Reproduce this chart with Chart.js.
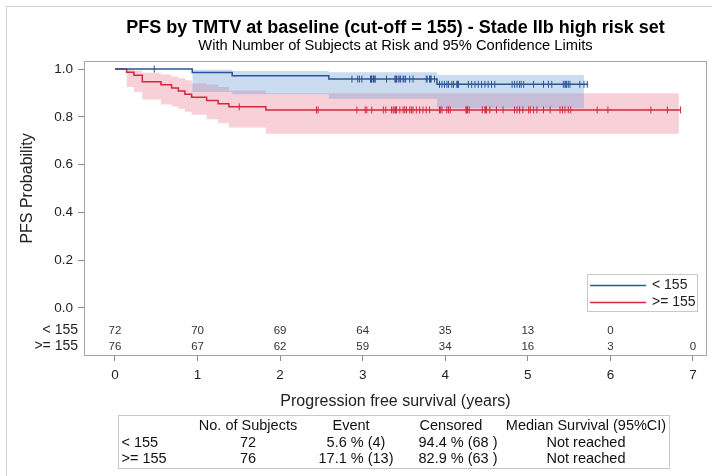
<!DOCTYPE html>
<html>
<head>
<meta charset="utf-8">
<title>PFS by TMTV at baseline</title>
<script src="https://cdn.jsdelivr.net/npm/chart.js@4.4.0/dist/chart.umd.min.js"></script>
<style>
  html, body { margin: 0; padding: 0; background: #fff; }
  #wrap { width: 712px; height: 476px; }
</style>
</head>
<body>
<div id="wrap"><canvas id="kmChart" width="712" height="476"></canvas></div>
<script>
// Values
const groups = ['< 155', '>= 155'];
const xTicks = [0, 1, 2, 3, 4, 5, 6, 7];
const yTicks = [0, 0.2, 0.4, 0.6, 0.8, 1.0];

// TMTV < 155
const lowTimes = [0, 0.936, 1.42, 2.59, 3.90, 5.73];
const lowSurv = [1, 0.986, 0.972, 0.958, 0.936, 0.936];
const lowBandTimes = [0.936, 1.42, 2.59, 3.90, 5.68];
const lowUpper = [0.997, 0.992, 0.987, 0.975, 0.975];
const lowLower = [0.904, 0.895, 0.876, 0.836, 0.836];
const lowCensor = [0.476,
  2.87, 2.94, 2.96, 2.99,
  3.095, 3.10, 3.107, 3.127, 3.13, 3.148, 3.15, 3.289, 3.39, 3.40, 3.41, 3.43, 3.45, 3.46,
  3.49, 3.50, 3.52, 3.57, 3.61, 3.77, 3.78, 3.81, 3.82, 3.83, 3.87, 3.93, 3.96, 3.99,
  4.02, 4.04, 4.08, 4.10, 4.14, 4.15, 4.16, 4.28, 4.32, 4.36, 4.40, 4.44, 4.48, 4.52,
  4.56, 4.60, 4.81, 4.84, 4.87, 4.90, 4.92, 4.95,
  5.07, 5.19, 5.25, 5.29, 5.43, 5.45, 5.46, 5.47, 5.49, 5.51, 5.63, 5.68, 5.72];

// TMTV >= 155
const highTimes = [0, 0.141, 0.23, 0.331, 0.557, 0.686, 0.767, 0.847, 0.928, 1.11, 1.25, 1.38, 1.828, 6.85];
const highSurv = [1, 0.987, 0.974, 0.947, 0.934, 0.921, 0.908, 0.895, 0.882, 0.868, 0.855, 0.842, 0.829, 0.829];
const highBandTimes = [0.141, 0.23, 0.331, 0.557, 0.686, 0.767, 0.847, 0.928, 1.11, 1.25, 1.38, 1.828, 6.83];
const highUpper = [0.998, 0.994, 0.985, 0.977, 0.969, 0.961, 0.953, 0.941, 0.935, 0.925, 0.91, 0.899, 0.899];
const highLower = [0.925, 0.904, 0.872, 0.852, 0.843, 0.834, 0.821, 0.809, 0.79, 0.773, 0.755, 0.729, 0.729];
const highCensor = [1.505,
  2.44, 2.46, 2.93,
  3.03, 3.05, 3.11, 3.25, 3.28, 3.35, 3.37, 3.39, 3.40, 3.41, 3.45, 3.49, 3.51, 3.53, 3.57,
  3.59, 3.61, 3.65, 3.69, 3.73, 3.77, 3.81, 3.93, 3.94, 3.96,
  4.02, 4.04, 4.06, 4.25, 4.26, 4.27, 4.29, 4.45, 4.48, 4.49, 4.50, 4.54, 4.62, 4.70,
  4.84, 4.87, 4.90, 4.94,
  5.01, 5.03, 5.07, 5.11, 5.19, 5.27, 5.39, 5.42, 5.45, 5.49, 5.52, 5.84, 5.97,
  6.49, 6.69, 6.85];

// Number at risk at each x tick
const atRiskLow = [72, 70, 69, 64, 35, 13, 0];
const atRiskHigh = [76, 67, 62, 59, 34, 16, 3, 0];

// Summary table under the plot
const tableHeader = ['', 'No. of Subjects', 'Event', 'Censored', 'Median Survival (95%CI)'];
const tableLow = ['< 155', '72', '5.6 % (4)', '94.4 % (68 )', 'Not reached'];
const tableHigh = ['>= 155', '76', '17.1 % (13)', '82.9 % (63 )', 'Not reached'];

// Colours
const blue = '#2a5597';
const red = '#d2283c';
const blueFill = 'rgba(100, 150, 210, 0.33)';
const redFill = 'rgba(225, 85, 115, 0.28)';
const FONT = '"Liberation Sans", Arial, sans-serif';

Chart.defaults.font.family = FONT;
Chart.defaults.color = '#222';

const toPoints = (xs, ys) => xs.map((x, i) => ({ x: x, y: ys[i] }));

// survival value of a step curve at time t (for censor marks)
function survAt(times, surv, t) {
  let s = surv[0];
  for (let i = 0; i < times.length; i++) {
    if (times[i] <= t) s = surv[i];
  }
  return s;
}

const censorPoints = (c, times, surv) => c.map(t => ({ x: t, y: survAt(times, surv, t) }));

// Frame, at-risk rows, legend, y title and summary table
const kmExtras = {
  id: 'kmExtras',
  beforeDraw(chart) {
    const ctx = chart.ctx;
    ctx.save();
    ctx.strokeStyle = '#d4d4d4';
    ctx.lineWidth = 1;
    ctx.strokeRect(6.5, 6.5, 800, 600);
    ctx.restore();
  },
  afterDraw(chart) {
    const ctx = chart.ctx;
    const ca = chart.chartArea;
    const xs = chart.scales.x;
    const ys = chart.scales.y;
    ctx.save();

    // plot frame
    ctx.strokeStyle = '#a3a3a3';
    ctx.lineWidth = 1;
    ctx.strokeRect(Math.round(ca.left) + 0.5, Math.round(ca.top) + 0.5,
      Math.round(ca.right - ca.left) - 1, Math.round(ca.bottom - ca.top));

    // y axis title
    ctx.fillStyle = '#222';
    ctx.font = '16px ' + FONT;
    ctx.textAlign = 'center';
    ctx.textBaseline = 'middle';
    ctx.save();
    ctx.translate(28, (ys.getPixelForValue(0) + ys.getPixelForValue(1)) / 2);
    ctx.rotate(-Math.PI / 2);
    ctx.fillText('PFS Probability', 0, 0);
    ctx.restore();

    // number at risk
    const rowY = [ca.bottom - 24.5, ca.bottom - 8.5];
    ctx.textAlign = 'right';
    ctx.font = '14px ' + FONT;
    groups.forEach((g, i) => ctx.fillText(g, 78, rowY[i]));
    ctx.textAlign = 'center';
    ctx.font = '11.5px ' + FONT;
    ctx.fillStyle = '#333';
    [atRiskLow, atRiskHigh].forEach((row, i) => {
      row.forEach((n, j) => ctx.fillText(String(n), xs.getPixelForValue(xTicks[j]), rowY[i]));
    });

    // legend
    const lg = { left: ca.right - 120, top: ca.bottom - 81, w: 110, h: 37 };
    ctx.fillStyle = '#fff';
    ctx.fillRect(lg.left, lg.top, lg.w, lg.h);
    ctx.strokeStyle = '#c8c8c8';
    ctx.strokeRect(lg.left + 0.5, lg.top + 0.5, lg.w, lg.h);
    [blue, red].forEach((c, i) => {
      const y = lg.top + 11.5 + i * 17;
      ctx.strokeStyle = c;
      ctx.lineWidth = 1.5;
      ctx.beginPath();
      ctx.moveTo(lg.left + 3, y);
      ctx.lineTo(lg.left + 59, y);
      ctx.stroke();
      ctx.fillStyle = '#222';
      ctx.font = '14px ' + FONT;
      ctx.textAlign = 'left';
      ctx.fillText(groups[i], lg.left + 65, y);
    });

    // summary table
    const tb = { left: 118, top: 415, right: 669, bottom: 468 };
    ctx.strokeStyle = '#c8c8c8';
    ctx.lineWidth = 1;
    ctx.strokeRect(tb.left + 0.5, tb.top + 0.5, tb.right - tb.left, tb.bottom - tb.top);
    const headX = [121.5, 248, 351, 451, 586];
    const cellX = [121.5, 248, 356, 458, 586];
    const rowsY = [426, 442.7, 459.3];
    ctx.fillStyle = '#111';
    ctx.font = '14.5px ' + FONT;
    [tableHeader, tableLow, tableHigh].forEach((row, r) => {
      row.forEach((txt, c) => {
        ctx.textAlign = c === 0 ? 'left' : 'center';
        ctx.fillText(txt, r === 0 ? headX[c] : cellX[c], rowsY[r]);
      });
    });
    ctx.restore();
  }
};

const ctx = document.getElementById('kmChart');

new Chart(ctx, {
  type: 'line',
  data: {
    datasets: [
      {
        label: groups[0],
        data: toPoints(lowTimes, lowSurv),
        borderColor: blue, borderWidth: 1.5, stepped: true,
        pointRadius: 0, fill: false
      },
      {
        label: groups[1],
        data: toPoints(highTimes, highSurv),
        borderColor: red, borderWidth: 1.5, stepped: true,
        pointRadius: 0, fill: false
      },
      {
        label: 'censored ' + groups[0],
        data: censorPoints(lowCensor, lowTimes, lowSurv),
        showLine: false, pointStyle: 'line', pointRotation: 90,
        pointRadius: 3.5, pointBorderWidth: 1, pointBorderColor: blue
      },
      {
        label: 'censored ' + groups[1],
        data: censorPoints(highCensor, highTimes, highSurv),
        showLine: false, pointStyle: 'line', pointRotation: 90,
        pointRadius: 3.5, pointBorderWidth: 1, pointBorderColor: red
      },
      {
        label: 'upper ' + groups[0],
        data: toPoints(lowBandTimes, lowUpper),
        borderWidth: 0, pointRadius: 0, stepped: true,
        backgroundColor: blueFill, fill: '+1'
      },
      {
        label: 'lower ' + groups[0],
        data: toPoints(lowBandTimes, lowLower),
        borderWidth: 0, pointRadius: 0, stepped: true, fill: false
      },
      {
        label: 'upper ' + groups[1],
        data: toPoints(highBandTimes, highUpper),
        borderWidth: 0, pointRadius: 0, stepped: true,
        backgroundColor: redFill, fill: '+1'
      },
      {
        label: 'lower ' + groups[1],
        data: toPoints(highBandTimes, highLower),
        borderWidth: 0, pointRadius: 0, stepped: true, fill: false
      }
    ]
  },
  options: {
    responsive: false,
    animation: false,
    events: [],
    layout: { padding: { left: 0, right: 5, top: 0, bottom: 0 } },
    plugins: {
      legend: { display: false },
      tooltip: { enabled: false },
      title: {
        display: true,
        fullSize: false,
        text: 'PFS by TMTV at baseline (cut-off = 155) - Stade IIb high risk set',
        color: '#000',
        font: { size: 18, weight: 'bold', lineHeight: 1 },
        padding: { top: 19, bottom: 0 }
      },
      subtitle: {
        display: true,
        fullSize: false,
        text: 'With Number of Subjects at Risk and 95% Confidence Limits',
        color: '#000',
        font: { size: 14.7, lineHeight: 1.2 },
        padding: { top: 0, bottom: 6.4 }
      }
    },
    scales: {
      x: {
        type: 'linear',
        min: -0.375,
        max: 7.17,
        afterBuildTicks: s => { s.ticks = xTicks.map(v => ({ value: v })); },
        afterFit: s => { s.height = 121; },
        grid: { drawOnChartArea: false, drawTicks: true, tickLength: 6, color: '#8c8c8c' },
        border: { display: false },
        ticks: { padding: 6, font: { size: 13.5 }, color: '#222', maxRotation: 0 },
        title: {
          display: true,
          text: 'Progression free survival (years)',
          font: { size: 16 },
          color: '#222',
          padding: { top: 4, bottom: 64.4 }
        }
      },
      y: {
        type: 'linear',
        min: -0.197,
        max: 1.0335,
        afterBuildTicks: s => { s.ticks = yTicks.map(v => ({ value: v })); },
        afterFit: s => { s.width = 84; },
        grid: { drawOnChartArea: false, drawTicks: true, tickLength: 6, color: '#8c8c8c' },
        border: { display: false },
        ticks: { padding: 5, font: { size: 13.5 }, color: '#222', callback: v => v.toFixed(1) }
      }
    }
  },
  plugins: [kmExtras]
});
</script>
</body>
</html>
